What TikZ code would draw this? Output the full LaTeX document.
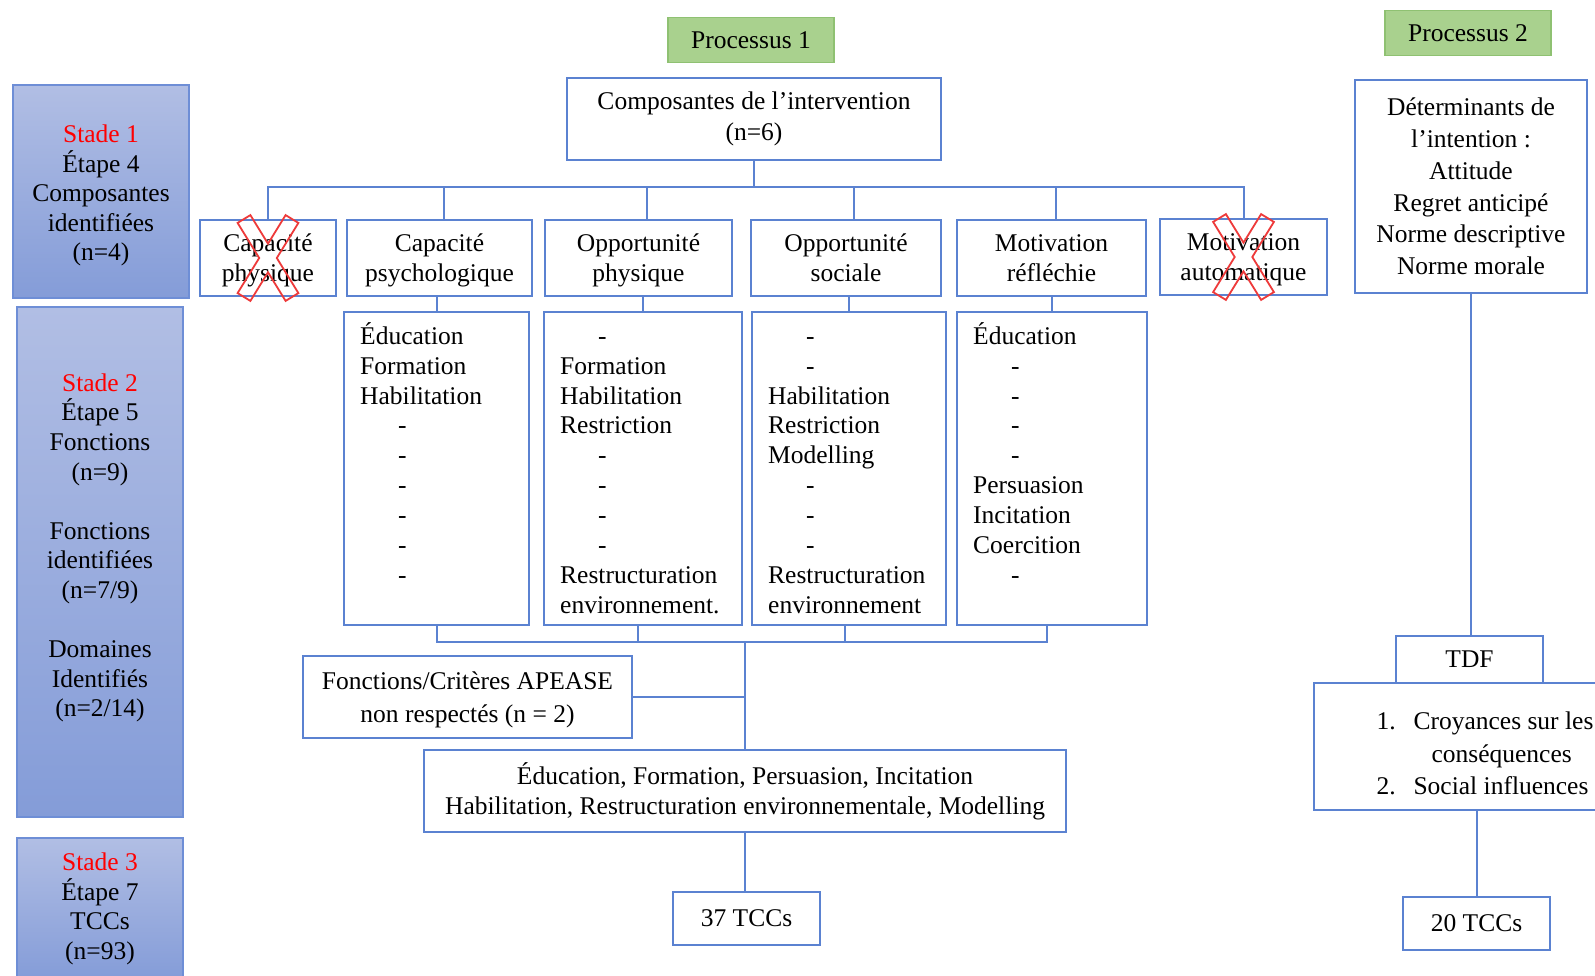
\documentclass[tikz,border=0pt]{standalone}
\usepackage{fontspec}
\setmainfont{Liberation Serif}
\usepackage{tikz}
\usetikzlibrary{positioning}
\definecolor{LinkBlue}{HTML}{5B82D1}
\definecolor{StageTop}{HTML}{B1BEE4}
\definecolor{StageBot}{HTML}{849CD8}
\definecolor{StageEdge}{HTML}{6E8ED6}
\definecolor{ProcFill}{HTML}{A9D18E}
\definecolor{ProcEdge}{HTML}{8FC172}
\definecolor{CrossRed}{HTML}{EE3A3A}
\newcommand{\vide}{\hspace*{38pt}-}
\newcommand{\premier}{\rule{0pt}{25pt}}
\newcommand{\duo}[2]{\rule{0pt}{26pt}#1\\#2\strut}

\begin{document}
\begin{tikzpicture}[x=1pt, y=-1pt,
    every node/.style={font=\fontsize{25.5}{29.6}\selectfont},
    box/.style={draw=LinkBlue, line width=2pt, fill=white, align=center, inner sep=0pt},
    stage/.style={draw=StageEdge, line width=1.5pt, top color=StageTop, bottom color=StageBot,
                  align=center, inner sep=0pt, minimum width=166pt},
    proc/.style={draw=ProcEdge, line width=1.5pt, fill=ProcFill, minimum width=166pt, minimum height=45pt},
    liste/.style={align=left, anchor=north west, inner xsep=17pt, inner ysep=8pt,
                  font=\fontsize{25.5}{29.9}\selectfont},
    link/.style={draw=LinkBlue, line width=2pt},
    croix/.pic={
      \draw[CrossRed, line width=1.8pt]
        (-30.4,-35.1) -- (-17.6,-42.9) -- (0,-14.3) -- (17.6,-42.9) -- (30.4,-35.1) -- (8.8,0)
        -- (30.4,35.1) -- (17.6,42.9) -- (0,14.3) -- (-17.6,42.9) -- (-30.4,35.1) -- (-8.8,0) -- cycle;
    },
  ]
    \path[use as bounding box, fill=white] (0,0) rectangle (1595,975);

    % stages (left column)
    \node[stage, minimum width=176pt, minimum height=213pt] (st1) at (101,191.5) {};
    \node[align=center] (st1txt) at (101,195.5)
      {\textcolor{red}{Stade 1}\\Étape 4\\Composantes\\identifiées\\(n=4)};
    \node[stage, minimum height=510pt] (st2) at (100,562) {};
    \node[align=center] (st2txt) at (100,548)
      {\textcolor{red}{Stade 2}\\Étape 5\\Fonctions\\(n=9)\\[\baselineskip]Fonctions\\identifiées\\(n=7/9)\\[\baselineskip]Domaines\\Identifiés\\(n=2/14)};
    \node[stage, minimum height=142pt] (st3) at (100,909)
      {\textcolor{red}{Stade 3}\\Étape 7\\TCCs\\(n=93)};

    % processus 1
    \node[proc] (p1) at (751,40) {Processus 1};
    \node[box, minimum width=374pt, minimum height=82pt, font=\fontsize{25.5}{31}\selectfont] (comp) at (754,119)
      {Composantes de l’intervention\\(n=6)};

    \node[box, minimum width=136pt, minimum height=76pt] (capphy) at (268,258)  {\duo{Capacité}{physique}};
    \node[box, minimum width=185pt, minimum height=76pt] (cappsy) at (439.5,258) {\duo{Capacité}{psychologique}};
    \node[box, minimum width=187pt, minimum height=76pt] (oppphy) at (638.5,258) {\duo{Opportunité}{physique}};
    \node[box, minimum width=190pt, minimum height=76pt] (oppsoc) at (846,258)   {\duo{Opportunité}{sociale}};
    \node[box, minimum width=189pt, minimum height=76pt] (motref) at (1051.5,258) {\duo{Motivation}{réfléchie}};
    \node[box, minimum width=167pt, minimum height=76pt] (motaut) at (1243.5,257) {\duo{Motivation}{automatique}};
    \pic (xphy) at (capphy.center) {croix};
    \pic (xaut) at (motaut.center) {croix};

    \coordinate (bus1) at (754,187);
    \draw[link] (comp.south) -- (bus1);
    \draw[link] (capphy.north) |- (bus1) -| (motaut.north);
    \foreach \n/\dx in {cappsy/4, oppphy/8, oppsoc/8, motref/4}
      \draw[link] ([xshift=\dx pt]\n.north) -- ([xshift=\dx pt]\n.north |- bus1);

    % fonctions
    \node[box, minimum width=185pt, minimum height=313pt] (fA) at (436.5,468.5) {};
    \node[box, minimum width=198pt, minimum height=313pt] (fB) at (643,468.5) {};
    \node[box, minimum width=194pt, minimum height=313pt] (fC) at (849,468.5) {};
    \node[box, minimum width=190pt, minimum height=313pt] (fD) at (1052,468.5) {};
    \node[liste] (fAtxt) at (fA.north west)
      {\premier Éducation\\Formation\\Habilitation\\\vide\\\vide\\\vide\\\vide\\\vide\\\vide};
    \node[liste] (fBtxt) at (fB.north west)
      {\premier\vide\\Formation\\Habilitation\\Restriction\\\vide\\\vide\\\vide\\\vide\\Restructuration\\environnement.};
    \node[liste] (fCtxt) at (fC.north west)
      {\premier\vide\\\vide\\Habilitation\\Restriction\\Modelling\\\vide\\\vide\\\vide\\Restructuration\\environnement};
    \node[liste] (fDtxt) at (fD.north west)
      {\premier Éducation\\\vide\\\vide\\\vide\\\vide\\Persuasion\\Incitation\\Coercition\\\vide};

    \foreach \n/\f in {cappsy/fA, oppphy/fB, oppsoc/fC, motref/fD}
      \draw[link] (\f.north) -- (\f.north |- \n.south);

    \coordinate (bus2) at (745,642);
    \draw[link] (fA.south) |- (bus2) -| ([xshift=-5pt]fD.south);
    \draw[link] ([xshift=-5pt]fB.south) -- ([xshift=-5pt]fB.south |- bus2);
    \draw[link] ([xshift=-4pt]fC.south) -- ([xshift=-4pt]fC.south |- bus2);

    \node[box, minimum width=329pt, minimum height=82pt] (apease) at (467.5,697) {};
    \node[align=center, font=\fontsize{25.5}{33}\selectfont] (apeasetxt) at (467.5,700)
      {Fonctions/Critères APEASE\\non respectés (n = 2)};
    \node[box, minimum width=642pt, minimum height=82pt] (edu) at (745,791)
      {Éducation, Formation, Persuasion, Incitation\\Habilitation, Restructuration environnementale, Modelling};
    \node[box, minimum width=147pt, minimum height=53pt] (tcc1) at (746.5,918.5) {37 TCCs};

    \draw[link] (bus2) -- (edu.north);
    \draw[link] (apease.east) -- (apease.east -| bus2);
    \draw[link] (edu.south) -- (edu.south |- tcc1.north);

    % processus 2
    \node[proc] (p2) at (1468,33) {Processus 2};
    \node[box, minimum width=232pt, minimum height=213pt, font=\fontsize{25.5}{31.8}\selectfont] (det) at (1471,186.5)
      {Déterminants de\\l’intention :\\Attitude\\Regret anticipé\\Norme descriptive\\Norme morale};
    \node[box, minimum width=338pt, minimum height=127pt] (croy) at (1483,746.5) {};
    \node[align=left, font=\fontsize{25.5}{32.5}\selectfont] (croytxt) at (1484,753.5)
      {\hspace*{2pt}\makebox[37pt][l]{1.}Croyances sur les\\\hspace*{57pt}conséquences\\\hspace*{2pt}\makebox[37pt][l]{2.}Social influences};
    \node[box, minimum width=147pt, minimum height=47pt] (tdf) at (1469.5,659.5) {TDF};
    \node[box, minimum width=147pt, minimum height=53pt] (tcc2) at (1476.5,923.5) {20 TCCs};

    \draw[link] (det.south) -- (det.south |- tdf.north);
    \draw[link] (tcc2.north |- croy.south) -- (tcc2.north);
  \end{tikzpicture}
\end{document}
